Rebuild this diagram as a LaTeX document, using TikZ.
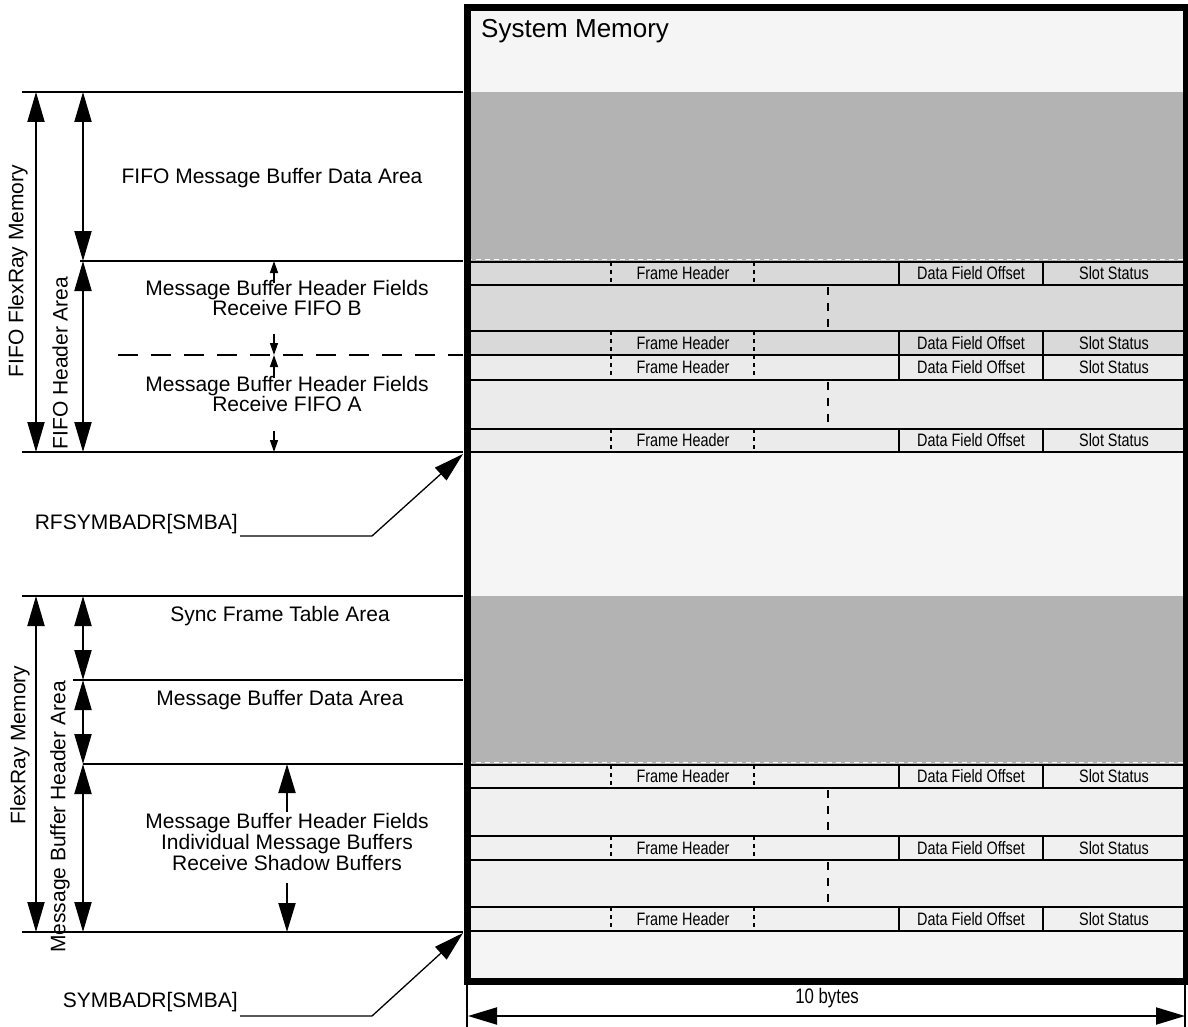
\documentclass[tikz,border=0pt]{standalone}
\usepackage{fontspec}
\usepackage{graphicx}
\setmainfont{Liberation Sans}
\usetikzlibrary{arrows.meta}
\definecolor{darkfill}{HTML}{B3B3B3}
\definecolor{lightfill}{HTML}{F5F5F5}
\definecolor{rowA}{HTML}{D9D9D9}
\definecolor{rowB}{HTML}{EBEBEB}
\definecolor{rowC}{HTML}{F0F0F0}
\newcommand\narrowtxt[1]{\scalebox{0.8}[1]{#1}}
\tikzset{
  bigdim/.style={line width=2pt,{Triangle[length=30pt,width=17pt]}-{Triangle[length=30pt,width=17pt]}},
  bigarr/.style={line width=2pt,-{Triangle[length=29pt,width=17pt]}},
  smallarr/.style={line width=1.5pt,-{Triangle[length=12pt,width=8pt]}},
  ptr/.style={line width=1.3pt,-{Triangle[length=30pt,width=17pt]}},
  level/.style={line width=2pt},
  lvldash/.style={line width=2pt,dash pattern=on 20pt off 13pt},
  lbl/.style={font=\fontsize{21}{18.5}\selectfont,align=center,inner sep=0pt},
  cell/.style={font=\fontsize{18}{18}\selectfont,inner sep=0pt},
  rowline/.style={line width=2pt},
  fhdash/.style={line width=1.3pt,dash pattern=on 4pt off 4pt},
  tdash/.style={line width=2.5pt,dash pattern=on 8pt off 8pt},
  whitedash/.style={draw=white,line width=1pt,dash pattern=on 5pt off 4pt},
  tick/.style={line width=1.5pt},
}
\begin{document}
\begin{tikzpicture}[x=1pt,y=-1pt]
\useasboundingbox (0,0) rectangle (1188,1027);
% ---- memory fills ----
\fill[lightfill] (467,8) rectangle (1186,92);
\fill[darkfill] (467,92) rectangle (1186,262);
\fill[rowA] (467,262) rectangle (1186,355);
\fill[rowB] (467,355) rectangle (1186,452);
\fill[lightfill] (467,452) rectangle (1186,596);
\fill[darkfill] (467,596) rectangle (1186,765);
\fill[rowC] (467,765) rectangle (1186,931);
\fill[lightfill] (467,931) rectangle (1186,981);
\draw[whitedash] (467,259.5) -- (1186,259.5);
\draw[whitedash] (467,762.5) -- (1186,762.5);
% row lines
\foreach \y in {262,285,331,355,380,429,452,765,788,836,860,907,931}
  \draw[rowline] (467,\y) -- (1186,\y);
% frame header rows
\foreach \t/\b in {262/285,331/355,355/380,429/452,765/788,836/860,907/931}{
  \draw[fhdash] (611,\t) -- (611,\b);
  \draw[fhdash] (754,\t) -- (754,\b);
  \draw[line width=1.5pt] (899,\t) -- (899,\b);
  \draw[line width=1.5pt] (1043,\t) -- (1043,\b);
  \node[cell] (fh\t) at (683,{(\t+\b)/2}) {\narrowtxt{Frame Header}};
  \node[cell] (dfo\t) at (971,{(\t+\b)/2}) {\narrowtxt{Data Field Offset}};
  \node[cell] (ss\t) at (1114,{(\t+\b)/2}) {\narrowtxt{Slot Status}};
}
\foreach \t/\b in {285/331,380/429,788/836,860/907}
  \draw[tdash] (828,\t+2) -- (828,\b-2);
% box border
\draw[line width=7pt] (467,8) rectangle (1186,981);
\node[anchor=west,inner sep=0pt,font=\fontsize{26}{26}\selectfont] (sysmem) at (481,31) {System Memory};

% ---- left side: level lines ----
\coordinate (a0) at (22,92);   \coordinate (a0e) at (463,92);
\coordinate (a1) at (80,261);  \coordinate (a1e) at (463,261);
\coordinate (a2) at (22,452);  \coordinate (a2e) at (463,452);
\coordinate (b0) at (22,596);  \coordinate (b0e) at (463,596);
\coordinate (b1) at (73,680);  \coordinate (b1e) at (463,680);
\coordinate (b2) at (83,764);  \coordinate (b2e) at (463,764);
\coordinate (b3) at (22,932);  \coordinate (b3e) at (463,932);
\coordinate (md) at (118,355); \coordinate (mde) at (463,355);
\foreach \s in {a0,a1,a2,b0,b1,b2,b3} \draw[level] (\s) -- (\s e);
\draw[lvldash] (md) -- (mde);

% dimension arrows
\coordinate (p1t) at (36,92);  \coordinate (p1b) at (36,452);
\coordinate (p2t) at (83,92);  \coordinate (p2m) at (83,261); \coordinate (p2b) at (83,452);
\draw[bigdim] (p1t) -- (p1b);
\draw[bigdim] (p2t) -- (p2m);
\draw[bigdim] (p2m) -- (p2b);
\coordinate (q1t) at (36,596);  \coordinate (q1b) at (36,932);
\coordinate (q2t) at (83,596);  \coordinate (q2a) at (83,680); \coordinate (q2b) at (83,764); \coordinate (q2c) at (83,932);
\draw[bigdim] (q1t) -- (q1b);
\draw[bigdim] (q2t) -- (q2a);
\draw[bigdim] (q2a) -- (q2b);
\draw[bigdim] (q2b) -- (q2c);

% small arrows FIFO
\coordinate (s1a) at (274,283); \coordinate (s1b) at (274,261);
\coordinate (s2a) at (274,334); \coordinate (s2b) at (274,355);
\coordinate (s3a) at (274,378); \coordinate (s3b) at (274,355);
\coordinate (s4a) at (274,431); \coordinate (s4b) at (274,452);
\draw[smallarr] (s1a) -- (s1b);
\draw[smallarr] (s2a) -- (s2b);
\draw[smallarr] (s3a) -- (s3b);
\draw[smallarr] (s4a) -- (s4b);

% big arrows lower
\coordinate (u1a) at (287,812); \coordinate (u1b) at (287,764);
\coordinate (u2a) at (287,883); \coordinate (u2b) at (287,932);
\draw[bigarr] (u1a) -- (u1b);
\draw[bigarr] (u2a) -- (u2b);

% labels
\node[lbl] (fifodata) at (272,178) {FIFO Message Buffer Data Area};
\node[lbl] (fifob) at (287,298) {Message Buffer Header Fields\\Receive FIFO B};
\node[lbl] (fifoa) at (287,394) {Message Buffer Header Fields\\Receive FIFO A};
\node[lbl] (sync) at (280,616) {Sync Frame Table Area};
\node[lbl] (mbdata) at (280,700) {Message Buffer Data Area};
\node[lbl] (mbhdr) at (287,842) {Message Buffer Header Fields\\Individual Message Buffers\\Receive Shadow Buffers};
\node[lbl,rotate=90] (fifofr) at (18,271) {FIFO FlexRay Memory};
\node[lbl,rotate=90] (fifohdr) at (60,363) {FIFO Header Area};
\node[lbl,rotate=90] (frmem) at (20,745) {FlexRay Memory};
\node[lbl,rotate=90] (mbhdrarea) at (60,817) {Message Buffer Header Area};

% pointers
\node[lbl,anchor=east] (rfsym) at (238,524) {RFSYMBADR[SMBA]};
\coordinate (rfs) at (240,536);
\coordinate (rfk) at (372,536);
\coordinate (rftip) at (463,454);
\draw[ptr] (rfs) -- (rfk) -- (rftip);
\node[lbl,anchor=east] (sym) at (238,1002) {SYMBADR[SMBA]};
\coordinate (sys) at (240,1016);
\coordinate (syk) at (372,1016);
\coordinate (sytip) at (463,933);
\draw[ptr] (sys) -- (syk) -- (sytip);

% width dimension
\coordinate (w1t) at (467,984); \coordinate (w1b) at (467,1027);
\coordinate (w2t) at (1185,984); \coordinate (w2b) at (1185,1027);
\draw[tick] (w1t) -- (w1b);
\draw[tick] (w2t) -- (w2b);
\coordinate (wl) at (468,1016); \coordinate (wr) at (1185,1016);
\draw[line width=2pt,{Triangle[length=29pt,width=17pt]}-{Triangle[length=29pt,width=17pt]}] (wl) -- (wr);
\node[inner sep=0pt,font=\fontsize{21}{21}\selectfont] (bytes) at (827,998) {\narrowtxt{10 bytes}};
\end{tikzpicture}
\end{document}
